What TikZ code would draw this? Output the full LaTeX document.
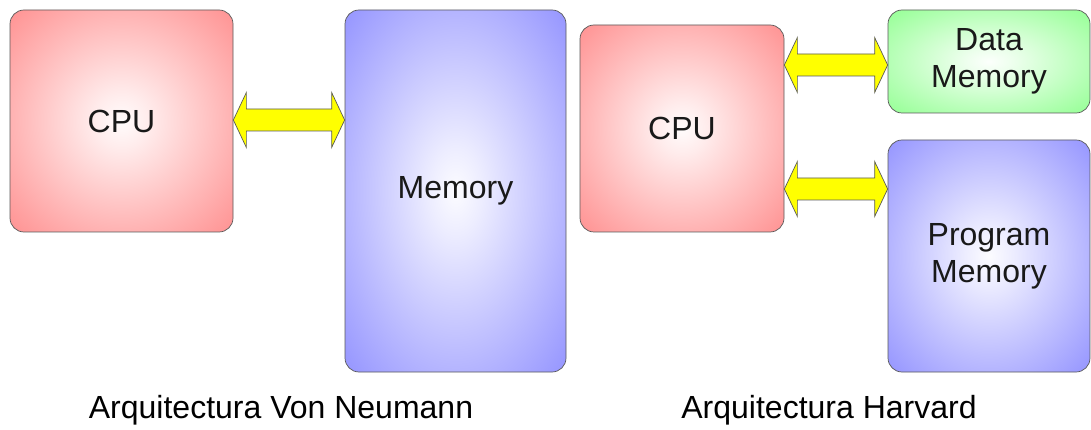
\documentclass[tikz,border=0pt]{standalone}
\usepackage{fontspec}
\setmainfont{Liberation Sans}
\usetikzlibrary{calc}
\definecolor{cpured}{RGB}{255,150,150}
\definecolor{memblue}{RGB}{153,153,255}
\definecolor{memgreen}{RGB}{153,255,153}
\definecolor{busyellow}{RGB}{255,255,0}
\pgfdeclareradialshading{redsh}{\pgfpoint{0bp}{0bp}}{color(0bp)=(white!97!cpured); color(6bp)=(white!82!cpured); color(34bp)=(cpured); color(50bp)=(cpured)}
\pgfdeclareradialshading{bluesh}{\pgfpoint{0bp}{0bp}}{color(0bp)=(white!97!memblue); color(6bp)=(white!82!memblue); color(34bp)=(memblue); color(50bp)=(memblue)}
\pgfdeclareradialshading{greensh}{\pgfpoint{0bp}{0bp}}{color(0bp)=(white!97!memgreen); color(6bp)=(white!82!memgreen); color(34bp)=(memgreen); color(50bp)=(memgreen)}
\tikzset{
  unit/.style={rectangle, rounded corners=14pt, draw=black!65, line width=0.7pt,
    inner sep=0pt, align=center, font=\fontsize{32}{37}\selectfont, text=black!90},
  redunit/.style={unit, shading=redsh},
  blueunit/.style={unit, shading=bluesh},
  greenunit/.style={unit, shading=greensh},
  bus/.style={fill=busyellow, draw=black!65, line width=0.7pt, line join=miter},
  caption/.style={font=\fontsize{32}{37}\selectfont, text=black, inner sep=0pt}
}
% #1 = left coordinate, #2 = right coordinate (same height)
\newcommand\busarrow[2]{%
  \draw[bus] let \p1=(#1), \p2=(#2) in
    (\x1,\y1) -- (\x1+13pt,\y1+27.5pt) -- (\x1+13pt,\y1+11pt) -- (\x2-13pt,\y1+11pt)
    -- (\x2-13pt,\y1+27.5pt) -- (\x2,\y1) -- (\x2-13pt,\y1-27.5pt) -- (\x2-13pt,\y1-11pt)
    -- (\x1+13pt,\y1-11pt) -- (\x1+13pt,\y1-27.5pt) -- cycle;}
\begin{document}
\begin{tikzpicture}[x=1pt,y=-1pt]
\useasboundingbox (0,0) rectangle (1091,430);
% Von Neumann
\node[redunit, minimum width=223pt, minimum height=222pt] (cpuL) at (121.5,121) {CPU};
\node[blueunit, minimum width=221pt, minimum height=362pt] (memL) at (455.5,191) {Memory};
\coordinate (b1a) at (cpuL.east |- 0,120);
\coordinate (b1b) at (memL.west |- 0,120);
\busarrow{b1a}{b1b}
\node[caption] (capL) at (281,410) {Arquitectura Von Neumann};
% Harvard
\node[redunit, minimum width=204pt, minimum height=207pt] (cpuR) at (682,128.5) {CPU};
\node[greenunit, minimum width=202pt, minimum height=103pt] (dmem) at (989,61.5) {Data\\Memory};
\node[blueunit, minimum width=202pt, minimum height=232pt] (pmem) at (989,256) {Program\\Memory};
\coordinate (b2a) at (cpuR.east |- 0,65);
\coordinate (b2b) at (dmem.west |- 0,65);
\busarrow{b2a}{b2b}
\coordinate (b3a) at (cpuR.east |- 0,189);
\coordinate (b3b) at (pmem.west |- 0,189);
\busarrow{b3a}{b3b}
\node[caption] (capR) at (829,410) {Arquitectura Harvard};
\end{tikzpicture}
\end{document}
